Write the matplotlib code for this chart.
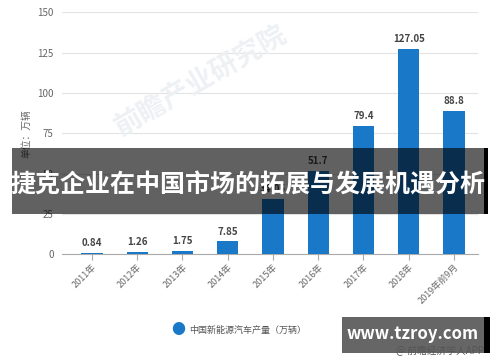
import matplotlib
matplotlib.use('Agg')
import matplotlib.pyplot as plt
from matplotlib.patches import Rectangle

plt.rcParams['font.family'] = ['Noto Sans CJK SC', 'DejaVu Sans']

# data
years = ['2011年', '2012年', '2013年', '2014年', '2015年', '2016年', '2017年', '2018年', '2019年前9月']
output = [0.84, 1.26, 1.75, 7.85, 34.05, 51.7, 79.4, 127.05, 88.8]
labels = ['0.84', '1.26', '1.75', '7.85', '34.05', '51.7', '79.4', '127.05', '88.8']
yticks = [0, 25, 50, 75, 100, 125, 150]

bar_color = '#1a78c8'
grey = '#666666'

fig = plt.figure(figsize=(5, 3.62), dpi=100)
ax = fig.add_axes([0.124, 0.298, 0.832, 0.668])

x = range(len(years))
ax.bar(x, output, width=0.47, color=bar_color, zorder=3)
for i, v in enumerate(output):
    ax.text(i, v + 3, labels[i], ha='center', va='bottom', fontsize=7,
            color='#444444', fontweight='bold', zorder=4)

ax.set_xlim(-0.66, 8.53)
ax.set_ylim(0, 150)
ax.set_yticks(yticks)
ax.set_xticks(list(x))
ax.set_xticklabels(years, rotation=45, ha='right', rotation_mode='anchor',
                   fontsize=6.5, color=grey)
ax.tick_params(axis='y', length=0, labelsize=7, colors=grey, pad=6)
ax.tick_params(axis='x', length=4, color='#aaaaaa', pad=2)
ax.grid(axis='y', color='#e3e3e3', linewidth=0.8, zorder=0)
for s in ['top', 'right', 'left']:
    ax.spines[s].set_visible(False)
ax.spines['bottom'].set_color('#aaaaaa')
ax.set_ylabel('单位：万辆', fontsize=7, color=grey, labelpad=4)

# faint watermark
fig.text(0.40, 0.78, '前瞻产业研究院', fontsize=20, color='#eef1f4', rotation=30,
         ha='center', va='center', fontweight='bold', zorder=0)

# legend
fig.text(0.356, 0.088, '●', fontsize=10, color=bar_color, ha='center', va='center')
fig.text(0.378, 0.088, '中国新能源汽车产量（万辆）', fontsize=6.5, color='#555555',
         ha='left', va='center')

# dark banner across the chart
fig.patches.append(Rectangle((0.024, 0.41), 0.946, 0.182, transform=fig.transFigure,
                             facecolor='black', alpha=0.62, zorder=10))
fig.patches.append(Rectangle((0.968, 0.41), 0.008, 0.182, transform=fig.transFigure,
                             facecolor='black', zorder=10))
fig.text(0.497, 0.488, '捷克企业在中国市场的拓展与发展机遇分析', fontsize=18,
         color='white', fontweight='bold', ha='center', va='center', zorder=11)

# site box at bottom right
fig.text(0.88, 0.03, '@ 前瞻经济学人APP', fontsize=7, color='#555555',
         ha='center', va='center', zorder=1)
fig.patches.append(Rectangle((0.684, 0.025), 0.286, 0.1, transform=fig.transFigure,
                             facecolor='#555555', alpha=0.9, zorder=10))
fig.patches.append(Rectangle((0.968, 0.025), 0.012, 0.1, transform=fig.transFigure,
                             facecolor='black', zorder=10))
fig.text(0.826, 0.077, 'www.tzroy.com', fontsize=12, color='white',
         fontweight='bold', ha='center', va='center', zorder=11)

fig.savefig('out.png', dpi=100)
